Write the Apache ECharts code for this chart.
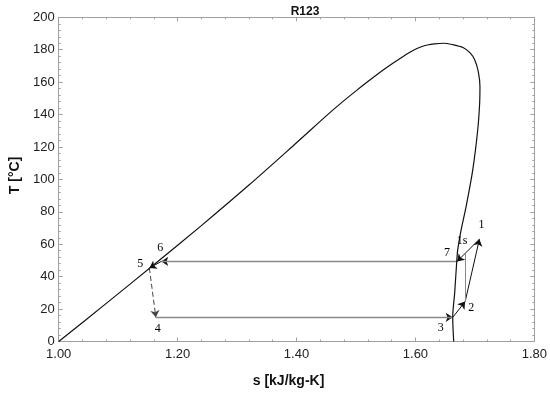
<!DOCTYPE html>
<html>
<head>
<meta charset="utf-8">
<script src="https://cdn.jsdelivr.net/npm/echarts@6/dist/echarts.min.js"></script>
<style>html,body{margin:0;padding:0;background:#fff}#c{width:550px;height:394px}</style>
</head>
<body>
<div id="c"></div>
<script>
// Saturated liquid line (s, T)
const liquidS = [1.000, 1.080, 1.160, 1.240, 1.320, 1.400, 1.460, 1.500, 1.540, 1.562, 1.580, 1.596, 1.610, 1.620, 1.632, 1.647];
const liquidT = [0.0, 23.5, 47.3, 71.5, 96.5, 122.6, 142.4, 154.6, 165.9, 171.6, 176.0, 179.5, 181.8, 182.9, 183.6, 184.0];
// Saturated vapour line (s, T), from the critical region down
const vaporS = [1.662, 1.680, 1.692, 1.700, 1.7057, 1.7085, 1.708, 1.7048, 1.6964, 1.6852, 1.6768, 1.6711, 1.6695, 1.666, 1.6627, 1.6644];
const vaporT = [183.2, 181.4, 178.0, 173.5, 166.5, 157.3, 147.0, 130.6, 105.9, 83.2, 68.8, 56.5, 49.5, 30.0, 15.0, 0.0];
// Cycle state points
const stateNames = ['1', '1s', '2', '3', '4', '5', '6', '7'];
const stateS = [1.7076, 1.6836, 1.6836, 1.6627, 1.1634, 1.1525, 1.1725, 1.6700];
const stateT = [63.1, 54.0, 24.6, 14.9, 14.9, 45.3, 49.4, 49.4];
// Processes (from, to)
const arrowSegments = [['4', '3'], ['3', '2'], ['2', '1'], ['1', '7'], ['7', '6'], ['6', '5']];
const dashedSegments = [['5', '4']];
const plainSegments = [['2', '1s']];
// Axis ticks
const xTicks = [1.00, 1.20, 1.40, 1.60, 1.80];
const yTicks = [0, 20, 40, 60, 80, 100, 120, 140, 160, 180, 200];

const title = 'R123';
const xName = 's [kJ/kg-K]';
const yName = 'T [°C]';

// ---- styling (not data) ----
const greySegs = ['4-3', '7-6'];
const labelOffset = {'1': [2, -14], '1s': [-3, -13], '2': [6, 6], '3': [-12, 10], '4': [2, 11], '5': [-9, -4], '6': [-1, -14], '7': [-10, -9]};

const pt = n => { const i = stateNames.indexOf(n); return [stateS[i], stateT[i]]; };
const dome = liquidS.map((s, i) => [s, liquidT[i]]).concat(vaporS.map((s, i) => [s, vaporT[i]]));

const axisColor = '#a0a0a0';
const sans = 'Liberation Sans';
function xAxisDef(pos, labels) {
  return {
    type: 'value', position: pos, min: xTicks[0], max: xTicks[xTicks.length - 1], interval: 0.2,
    axisLine: {show: true, onZero: false, lineStyle: {color: axisColor, width: 1}},
    axisTick: {show: true, inside: true, length: 4, lineStyle: {color: axisColor}},
    minorTick: {show: true, splitNumber: 5, length: 2, lineStyle: {color: axisColor}},
    splitLine: {show: false},
    axisLabel: {show: labels, formatter: v => v.toFixed(2), fontFamily: sans, fontSize: 13, color: '#222', margin: 6},
    name: labels ? xName : '', nameLocation: 'middle', nameGap: 33,
    nameTextStyle: {fontFamily: sans, fontWeight: 'bold', fontSize: 14, color: '#111', padding: [0, 16, 0, 0]}
  };
}
function yAxisDef(pos, labels) {
  return {
    type: 'value', position: pos, min: yTicks[0], max: yTicks[yTicks.length - 1], interval: 20,
    axisLine: {show: true, onZero: false, lineStyle: {color: axisColor, width: 1}},
    axisTick: {show: true, inside: true, length: 4, lineStyle: {color: axisColor}},
    minorTick: {show: true, splitNumber: 5, length: 2, lineStyle: {color: axisColor}},
    splitLine: {show: false},
    axisLabel: {show: labels, fontFamily: sans, fontSize: 13, color: '#222', margin: 4},
    name: labels ? yName : '', nameLocation: 'middle', nameGap: 36, nameRotate: 90,
    nameTextStyle: {fontFamily: sans, fontWeight: 'bold', fontSize: 14, color: '#111', padding: [0, 0, 0, 8]}
  };
}

const chart = echarts.init(document.getElementById('c'), null, {renderer: 'canvas'});
chart.setOption({
  animation: false,
  backgroundColor: '#fff',
  title: {text: title, left: 300, top: 1, textAlign: 'center',
    textStyle: {fontFamily: sans, fontWeight: 'bold', fontSize: 12, color: '#111'}},
  grid: {left: 58.7, right: 15, top: 17.3, bottom: 52.5, containLabel: false},
  xAxis: [xAxisDef('bottom', true), xAxisDef('top', false)],
  yAxis: [yAxisDef('left', true), yAxisDef('right', false)],
  series: [
    {type: 'line', data: dome, showSymbol: false, smooth: 0.3, silent: true,
      lineStyle: {color: '#111', width: 1.2}},
    // black arrowed processes
    {type: 'lines', coordinateSystem: 'cartesian2d', symbol: ['none', 'arrow'], symbolSize: 7, silent: true, z: 2,
      lineStyle: {color: '#111', width: 1, opacity: 1},
      data: arrowSegments.map(([a, b]) => ({coords: [pt(a), pt(b)]}))},
    // grey overlay for the horizontal processes (keeps black arrowheads)
    {type: 'lines', coordinateSystem: 'cartesian2d', symbol: ['none', 'none'], silent: true, z: 3,
      lineStyle: {color: '#8a8a8a', width: 1.4, opacity: 1},
      data: arrowSegments.filter(([a, b]) => greySegs.includes(a + '-' + b)).map(([a, b]) => ({coords: [pt(a), pt(b)]}))},
    {type: 'lines', coordinateSystem: 'cartesian2d', symbol: ['none', 'arrow'], symbolSize: 7, silent: true, z: 2,
      lineStyle: {color: '#444', width: 1, type: [5, 3], opacity: 1},
      data: dashedSegments.map(([a, b]) => ({coords: [pt(a), pt(b)]}))},
    {type: 'lines', coordinateSystem: 'cartesian2d', symbol: ['none', 'none'], silent: true, z: 2,
      lineStyle: {color: '#8a8a8a', width: 1, opacity: 1},
      data: plainSegments.map(([a, b]) => ({coords: [pt(a), pt(b)]}))},
    {type: 'scatter', symbolSize: 0, silent: true, z: 5, itemStyle: {opacity: 1},
      data: stateNames.map((n, i) => ({name: n, value: [stateS[i], stateT[i]],
        label: {show: true, formatter: n, position: 'inside', offset: labelOffset[n], opacity: 1,
          fontFamily: 'Liberation Serif', fontSize: 12, color: '#000'}}))}
  ]
});
</script>
</body>
</html>
